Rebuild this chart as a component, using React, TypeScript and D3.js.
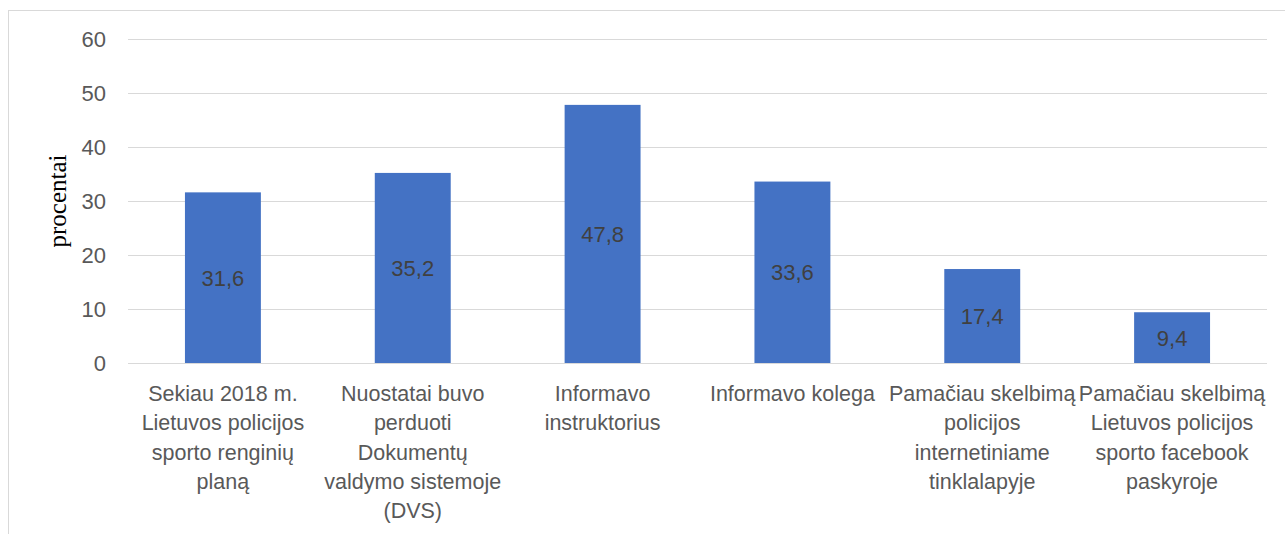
import React, { useRef, useEffect } from 'react';
import * as d3 from 'd3';

// survey answers: how respondents learned about the events
const categories = [
  ['Sekiau 2018 m.', 'Lietuvos policijos', 'sporto renginių', 'planą'],
  ['Nuostatai buvo', 'perduoti', 'Dokumentų', 'valdymo sistemoje', '(DVS)'],
  ['Informavo', 'instruktorius'],
  ['Informavo kolega'],
  ['Pamačiau skelbimą', 'policijos', 'internetiniame', 'tinklalapyje'],
  ['Pamačiau skelbimą', 'Lietuvos policijos', 'sporto facebook', 'paskyroje'],
];
const values = [31.6, 35.2, 47.8, 33.6, 17.4, 9.4];
const yTicks = [0, 10, 20, 30, 40, 50, 60];
const yTitle = 'procentai';

const W = 1285;
const H = 534;
const FONT = '"Liberation Sans", Arial, sans-serif';

const App = () => {
  const ref = useRef<SVGSVGElement>(null);

  useEffect(() => {
    document.body.style.margin = '0';
    const svg = d3.select(ref.current);
    svg.selectAll('*').remove();

    const x = d3
      .scaleBand<number>()
      .domain(d3.range(values.length))
      .range([128, 1267])
      .paddingInner(0.6)
      .paddingOuter(0.3);
    const y = d3.scaleLinear().domain([0, 60]).range([363, 39]);

    // chart frame (cut off at right and bottom)
    svg
      .append('rect')
      .attr('x', 8.5)
      .attr('y', 10.5)
      .attr('width', W)
      .attr('height', H)
      .attr('fill', 'none')
      .attr('stroke', '#d9d9d9');

    // gridlines
    svg
      .append('g')
      .selectAll('line')
      .data(yTicks)
      .enter()
      .append('line')
      .attr('x1', 128)
      .attr('x2', 1267)
      .attr('y1', (d) => Math.round(y(d)) + 0.5)
      .attr('y2', (d) => Math.round(y(d)) + 0.5)
      .attr('stroke', '#d9d9d9')
      .attr('stroke-width', 1.2);

    // y tick labels
    svg
      .append('g')
      .selectAll('text')
      .data(yTicks)
      .enter()
      .append('text')
      .attr('x', 106)
      .attr('y', (d) => y(d))
      .attr('dy', '0.36em')
      .attr('text-anchor', 'end')
      .attr('font-family', FONT)
      .attr('font-size', 22)
      .attr('fill', '#595959')
      .text((d) => d);

    // bars
    svg
      .append('g')
      .selectAll('rect')
      .data(values)
      .enter()
      .append('rect')
      .attr('x', (d, i) => x(i))
      .attr('y', (d) => y(d))
      .attr('width', x.bandwidth())
      .attr('height', (d) => y(0) - y(d))
      .attr('fill', '#4472c4');

    // value labels centred in bars
    svg
      .append('g')
      .selectAll('text')
      .data(values)
      .enter()
      .append('text')
      .attr('x', (d, i) => x(i) + x.bandwidth() / 2)
      .attr('y', (d) => (y(d) + y(0)) / 2)
      .attr('dy', '0.36em')
      .attr('text-anchor', 'middle')
      .attr('font-family', FONT)
      .attr('font-size', 22)
      .attr('fill', '#404040')
      .text((d) => d3.format('.1f')(d).replace('.', ','));

    // category labels
    const cats = svg
      .append('g')
      .selectAll('text')
      .data(categories)
      .enter()
      .append('text')
      .attr('text-anchor', 'middle')
      .attr('font-family', FONT)
      .attr('font-size', 21.5)
      .attr('fill', '#595959');
    cats
      .selectAll('tspan')
      .data((d, i) => d.map((line) => ({ line, i })))
      .enter()
      .append('tspan')
      .attr('x', (d) => x(d.i) + x.bandwidth() / 2)
      .attr('y', (d, j) => 401 + j * 29.3)
      .text((d) => d.line);

    // y axis title
    svg
      .append('text')
      .attr('transform', 'translate(66,201) rotate(-90)')
      .attr('text-anchor', 'middle')
      .attr('font-family', '"Liberation Serif", "Times New Roman", serif')
      .attr('font-size', 25)
      .attr('fill', '#000')
      .text(yTitle);
  }, []);

  return <svg ref={ref} width={W} height={H} style={{ display: 'block' }} />;
};

export default App;
